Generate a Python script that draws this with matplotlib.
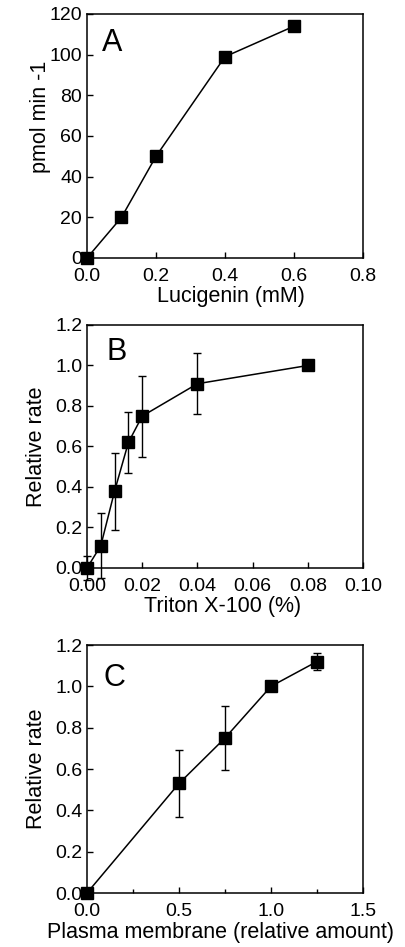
import matplotlib
matplotlib.use("Agg")
import matplotlib.pyplot as plt
from matplotlib.ticker import MultipleLocator

plt.rcParams['font.family'] = ['Liberation Sans', 'DejaVu Sans']

# Panel A
a_x = [0.0, 0.1, 0.2, 0.4, 0.6]
a_y = [0, 20, 50, 99, 114]
a_xticks = [0.0, 0.2, 0.4, 0.6, 0.8]
a_yticks = [0, 20, 40, 60, 80, 100, 120]

# Panel B
b_x = [0.0, 0.005, 0.01, 0.015, 0.02, 0.04, 0.08]
b_y = [0.0, 0.11, 0.38, 0.62, 0.75, 0.91, 1.0]
b_err = [0.06, 0.16, 0.19, 0.15, 0.20, 0.15, 0.0]
b_xticks = [0.00, 0.02, 0.04, 0.06, 0.08, 0.10]
b_yticks = [0.0, 0.2, 0.4, 0.6, 0.8, 1.0, 1.2]

# Panel C
c_x = [0.0, 0.5, 0.75, 1.0, 1.25]
c_y = [0.0, 0.53, 0.75, 1.0, 1.12]
c_err = [0.0, 0.16, 0.155, 0.0, 0.04]
c_xticks = [0.0, 0.5, 1.0, 1.5]
c_yticks = [0.0, 0.2, 0.4, 0.6, 0.8, 1.0, 1.2]

W, H = 406, 947
fig = plt.figure(figsize=(W / 100, H / 100), dpi=100)

def rect(l, t, r, b):
    return [l / W, 1 - b / H, (r - l) / W, (b - t) / H]

axA = fig.add_axes(rect(87, 14, 363, 258))
axB = fig.add_axes(rect(87, 325, 363, 568))
axC = fig.add_axes(rect(87, 645, 363, 893))

tick_fs = 14
label_fs = 15.5
letter_fs = 22

def style(ax, xticks, yticks, xfmt, yfmt):
    ax.set_xticks(xticks)
    ax.set_yticks(yticks)
    ax.set_xticklabels([xfmt.format(v) for v in xticks])
    ax.set_yticklabels([yfmt.format(v) for v in yticks])
    ax.set_xlim(xticks[0], xticks[-1])
    ax.set_ylim(yticks[0], yticks[-1])
    ax.tick_params(direction='in', length=4, width=1, labelsize=tick_fs)
    ax.tick_params(axis='x', pad=7)
    ax.tick_params(axis='y', pad=3.5)
    ax.tick_params(which='minor', direction='in', length=3, width=1)
    for s in ax.spines.values():
        s.set_linewidth(1.1)

mk = dict(marker='s', markersize=8.5, color='black', linewidth=1.1, clip_on=False)

axA.plot(a_x, a_y, **mk)
style(axA, a_xticks, a_yticks, "{:.1f}", "{:d}")
axA.set_xlabel("Lucigenin (mM)", fontsize=label_fs)
axA.xaxis.set_label_coords(0.52, -0.115)
axA.set_ylabel("pmol min -1", fontsize=label_fs)
axA.yaxis.set_label_coords(-0.13, 0.58)
axA.text(0.055, 0.88, "A", transform=axA.transAxes, fontsize=letter_fs, va='center', ha='left')

axB.errorbar(b_x, b_y, yerr=b_err, capsize=3, elinewidth=1, capthick=1, **mk)
style(axB, b_xticks, b_yticks, "{:.2f}", "{:.1f}")
axB.set_xlabel("Triton X-100 (%)", fontsize=label_fs)
axB.xaxis.set_label_coords(0.49, -0.115)
axB.set_ylabel("Relative rate", fontsize=label_fs)
axB.yaxis.set_label_coords(-0.145, 0.5)
axB.text(0.07, 0.89, "B", transform=axB.transAxes, fontsize=letter_fs, va='center', ha='left')

axC.errorbar(c_x, c_y, yerr=c_err, capsize=3, elinewidth=1, capthick=1, **mk)
style(axC, c_xticks, c_yticks, "{:.1f}", "{:.1f}")
axC.xaxis.set_minor_locator(MultipleLocator(0.25))
axC.set_xlabel("Plasma membrane (relative amount)", fontsize=label_fs)
axC.xaxis.set_label_coords(0.485, -0.115)
axC.set_ylabel("Relative rate", fontsize=label_fs)
axC.yaxis.set_label_coords(-0.145, 0.5)
axC.text(0.058, 0.867, "C", transform=axC.transAxes, fontsize=letter_fs, va='center', ha='left')

fig.savefig("out.png", dpi=100)
